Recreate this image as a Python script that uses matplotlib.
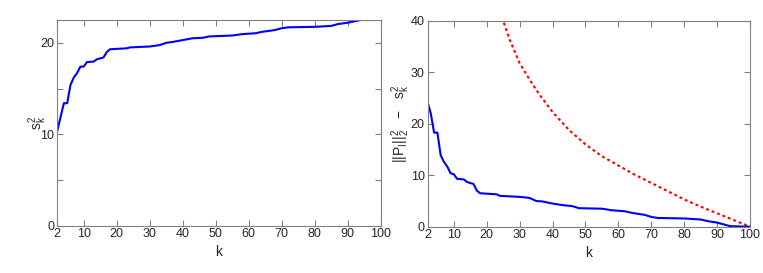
import matplotlib
matplotlib.use('Agg')
import matplotlib.pyplot as plt

# left panel: s_k^2 versus k
k_left = [2, 4, 5, 6, 7, 8, 9, 10, 11, 13, 14, 16, 17, 18, 23, 24, 30, 33, 35, 37,
          40, 43, 46, 48, 55, 58, 62, 64, 68, 70, 72, 80, 85, 87, 90, 94, 100]
s2 = [10.4, 13.4, 13.4, 15.4, 16.2, 16.7, 17.4, 17.4, 17.9, 17.95, 18.2, 18.4, 19.0,
      19.3, 19.4, 19.5, 19.6, 19.75, 20.0, 20.1, 20.3, 20.5, 20.55, 20.7, 20.8, 20.95,
      21.05, 21.2, 21.4, 21.6, 21.7, 21.75, 21.85, 22.05, 22.2, 22.5, 22.5]

# right panel: ||P_I||_2^2 - s_k^2 (blue) and bound (red dotted)
k_right = [2, 3, 4, 5, 6, 7, 8, 9, 10, 11, 13, 14, 16, 17, 18, 23, 24, 30, 33, 35, 37,
           40, 43, 46, 48, 55, 58, 62, 64, 68, 70, 72, 80, 85, 87, 90, 94, 100]
resid = [24.3, 22.0, 18.3, 18.3, 13.9, 12.6, 11.7, 10.4, 10.2, 9.3, 9.2, 8.7, 8.3, 7.0,
         6.5, 6.3, 6.0, 5.8, 5.6, 5.0, 4.9, 4.5, 4.2, 4.0, 3.6, 3.5, 3.2, 3.0, 2.7, 2.3,
         1.9, 1.7, 1.6, 1.4, 1.1, 0.8, 0.1, 0.0]
k_bound = [24, 25, 27, 30, 33, 36, 40, 45, 50, 55, 60, 65, 70, 75, 80, 85, 90, 95, 100]
bound = [41.8, 40.0, 36.3, 31.8, 28.6, 25.7, 22.3, 18.8, 16.0, 13.7, 11.9, 10.1, 8.5,
         6.9, 5.3, 3.9, 2.6, 1.3, 0.0]

xticks = [2, 10, 20, 30, 40, 50, 60, 70, 80, 90, 100]

plt.rcParams['font.family'] = ['Liberation Sans Narrow', 'Liberation Sans', 'DejaVu Sans']
plt.rcParams['mathtext.default'] = 'regular'

TXT = '#262626'
EDGE = '#808080'

fig = plt.figure(figsize=(7.63, 2.73), dpi=100)
ax1 = fig.add_axes([0.0751, 0.1733, 0.4238, 0.7535])
ax2 = fig.add_axes([0.5603, 0.1696, 0.4227, 0.7535])


def style(ax):
    for sp in ax.spines.values():
        sp.set_color(EDGE)
        sp.set_linewidth(0.8)
    ax.tick_params(direction='in', length=4, width=0.8, color=EDGE,
                   labelcolor=TXT, labelsize=9, top=True, right=True, pad=2)
    ax.set_xlim(2, 100)
    ax.set_xticks(xticks)
    ax.set_xlabel('k', fontsize=10, color=TXT, labelpad=3)


ax1.plot(k_left, s2, color='#0000ff', linewidth=1.5)
style(ax1)
ax1.set_ylim(0, 22.5)
ax1.set_yticks([0, 5, 10, 15, 20])
ax1.set_yticklabels(['0', '', '10', '', '20'])
ax1.set_ylabel(r'$s_k^2$', fontsize=10, color=TXT, labelpad=-6)

ax2.plot(k_bound, bound, color='#ff0000', linewidth=1.5, linestyle=(0, (1.4, 1.4)))
ax2.plot(k_right, resid, color='#0000ff', linewidth=1.5)
style(ax2)
ax2.set_ylim(0, 40)
ax2.set_yticks([0, 10, 20, 30, 40])
ax2.set_ylabel(r'$||P_I||_2^2\ \ -\ \ s_k^2$', fontsize=10, color=TXT, labelpad=-1)

fig.savefig('out.png', dpi=100)
